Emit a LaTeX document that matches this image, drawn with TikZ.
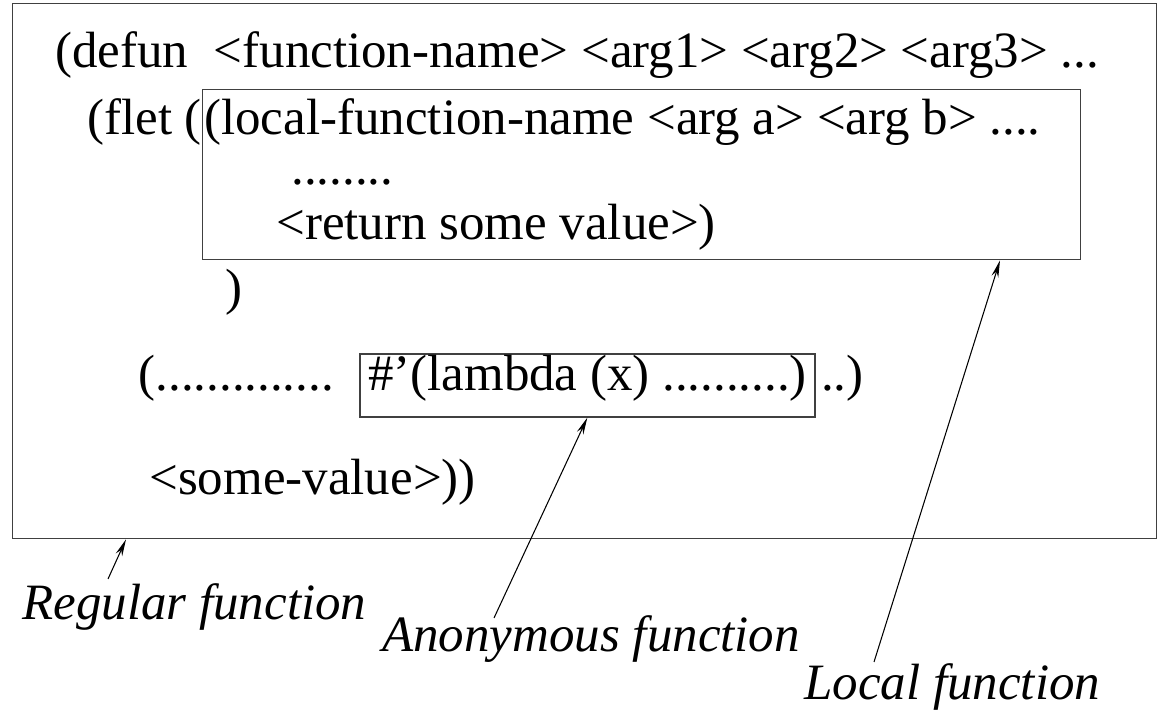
\documentclass[tikz,border=0pt]{standalone}
\usepackage{fontspec}
\setmainfont{Liberation Serif}
\usetikzlibrary{positioning,arrows.meta}

\begin{document}
\begin{tikzpicture}[>={Stealth[length=3.4mm,width=1.4mm]},
  box/.style={draw=black!75, line width=0.8pt, inner sep=0pt},
  code/.style={inner sep=0pt, anchor=base west, font=\fontsize{29}{35}\selectfont},
  note/.style={code, font=\fontsize{29}{35}\selectfont\itshape},
  even/.style={text height=0.8em, text depth=0.2em}]
  \useasboundingbox (0,0) rectangle (23.14,14.26);
  % the three boxes
  \node[box, minimum width=22.88cm, minimum height=10.7cm, anchor=north west] (regular) at (0.24,14.2) {};
  \node[box, minimum width=17.56cm, minimum height=3.4cm, anchor=north west] (local) at (4.04,12.48) {};
  \node[box, code, even, anchor=center, minimum width=9.1cm, minimum height=1.26cm] (lambda) at (11.75,6.55) {\#'(lambda (x) ..........)};
  % code lines
  \node[code] (defun) at (1.1,12.9) {(defun~~<function-name> <arg1> <arg2> <arg3> ...};
  \node[code] (flet) at (1.74,11.56) {(flet (};
  \node[code] (lname) at (4.08,11.56) {(local-function-name <arg a> <arg b> ....};
  \node[code] (ldots) at (5.82,10.56) {........};
  \node[code] (ret) at (5.52,9.46) {<return some value>)};
  \node[code] (close) at (4.5,8.16) {)};
  \node[code, even] (pre) [left=0.5cm of lambda] {(..............};
  \node[code, even] (post) [right=0.1cm of lambda] {..)};
  \node[code] (value) at (2.98,4.36) {<some-value>))};
  % labels
  \node[note] (reglbl) at (0.44,1.86) {Regular function};
  \node[note] (anonlbl) at (7.64,1.22) {Anonymous function};
  \node[note] (loclbl) at (16.08,0.26) {Local function};
  % pointers
  \coordinate (regtail) at (2.16,2.68);
  \coordinate (anontail) at (9.88,1.9);
  \coordinate (loctail) at (17.48,1.02);
  \path[->, line width=0.6pt]
    (regtail) edge ([xshift=2.28cm]regular.south west)
    (anontail) edge ([xshift=4.56cm]lambda.south west)
    (loctail) edge ([xshift=15.96cm]local.south west);
\end{tikzpicture}
\end{document}
